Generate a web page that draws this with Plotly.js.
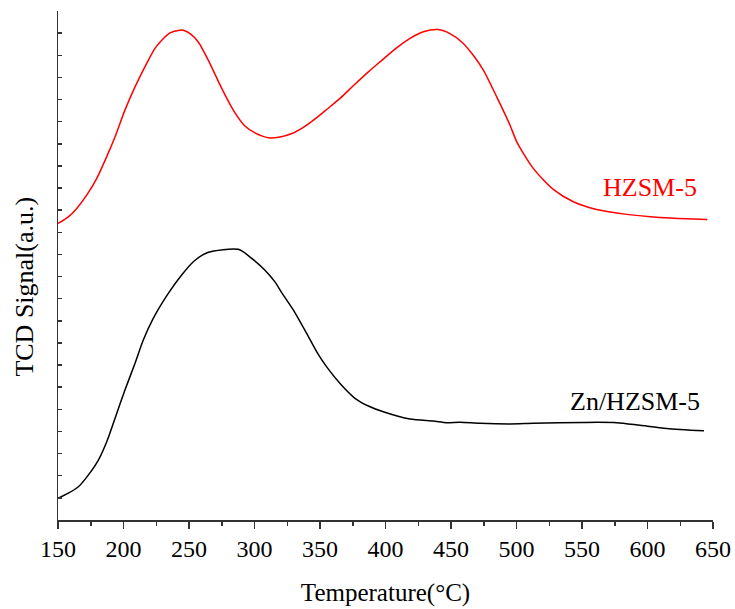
<!DOCTYPE html>
<html>
<head>
<meta charset="utf-8">
<script src="https://cdn.plot.ly/plotly-3.0.1.min.js"></script>
<style>html,body{margin:0;padding:0;background:#fff;}#chart{width:735px;height:609px;}</style>
</head>
<body>
<div id="chart"></div>
<script>
// HZSM-5 TPD profile (temperature in °C, signal in a.u.)
var hzsmT = [150, 157.9, 164.3, 171.9, 179.5, 187.1, 193.5, 201.1, 208.8, 217.7, 224.0, 229.2, 235.5, 243.1, 245.6, 250.8, 257.1, 264.7, 275.0, 283.8, 292.7, 300.4, 310.5, 319.5, 329.6, 337.3, 347.5, 355.1, 365.3, 375.4, 386.9, 395.8, 408.5, 418.7, 428.9, 440.3, 449.2, 458.2, 467.0, 474.7, 484.9, 495.0, 500.2, 512.8, 528.1, 543.4, 561.2, 584.1, 609.5, 629.9, 645.6];
var hzsmS = [13.40, 13.70, 14.08, 14.68, 15.43, 16.41, 17.31, 18.52, 19.57, 20.63, 21.31, 21.68, 22.01, 22.13, 22.13, 21.98, 21.60, 20.78, 19.50, 18.52, 17.80, 17.49, 17.27, 17.31, 17.49, 17.74, 18.18, 18.55, 19.05, 19.62, 20.25, 20.70, 21.33, 21.76, 22.06, 22.16, 21.98, 21.60, 21.00, 20.33, 19.12, 17.85, 17.09, 15.89, 14.94, 14.38, 14.03, 13.81, 13.67, 13.61, 13.58];

// Zn/HZSM-5 TPD profile
var znT = [150, 157.9, 165.5, 173.1, 180.8, 187.2, 193.5, 201.1, 208.8, 215.1, 222.7, 234.2, 244.4, 253.3, 264.3, 287.6, 297.9, 308.0, 315.6, 321.0, 329.6, 339.8, 347.5, 355.1, 365.3, 376.7, 386.9, 398.3, 418.7, 436.5, 446.7, 456.9, 472.1, 495.0, 512.8, 551.0, 576.5, 594.3, 614.7, 643.1];
var znS = [0.98, 1.21, 1.50, 2.03, 2.71, 3.54, 4.59, 5.87, 7.08, 8.13, 9.11, 10.24, 11.07, 11.67, 12.09, 12.23, 11.82, 11.29, 10.76, 10.25, 9.49, 8.43, 7.60, 6.92, 6.17, 5.50, 5.15, 4.89, 4.56, 4.47, 4.40, 4.42, 4.37, 4.34, 4.37, 4.41, 4.40, 4.28, 4.14, 4.03];

var seriesNames = ["HZSM-5", "Zn/HZSM-5"];
var labelPos = {T: [601.9, 590.5], S: [15.04, 5.34]};
var xTickVals = [150, 200, 250, 300, 350, 400, 450, 500, 550, 600, 650];

var serif = '"Liberation Serif", "Times New Roman", serif';
var axisColor = '#333333';

var traces = [
  {x: hzsmT, y: hzsmS, name: seriesNames[0], mode: 'lines', line: {color: '#ff0000', width: 1.5, shape: 'spline', smoothing: 0.7}, hoverinfo: 'x+y'},
  {x: znT, y: znS, name: seriesNames[1], mode: 'lines', line: {color: '#000000', width: 1.5, shape: 'spline', smoothing: 0.7}, hoverinfo: 'x+y'}
];

var layout = {
  width: 735, height: 609,
  margin: {l: 58, r: 22, t: 11, b: 89},
  paper_bgcolor: '#ffffff', plot_bgcolor: '#ffffff',
  showlegend: false,
  font: {family: serif, color: '#000000'},
  xaxis: {
    range: [150, 650], tickvals: xTickVals, ticktext: xTickVals.map(String),
    ticks: 'outside', ticklen: 7, tickwidth: 1.5, tickcolor: axisColor,
    minor: {dtick: 25, tick0: 150, ticks: 'outside', ticklen: 4, tickwidth: 1.5, tickcolor: axisColor},
    showline: true, linecolor: axisColor, linewidth: 1.5, showgrid: false, zeroline: false,
    tickfont: {family: serif, size: 24, color: '#000000'},
    title: {text: 'Temperature(°C)', font: {family: serif, size: 25, color: '#000000'}, standoff: 22}
  },
  xaxis2: {
    overlaying: 'x', matches: 'x', side: 'top', range: [150, 650],
    dtick: 25, tick0: 150, ticks: 'inside', ticklen: 4, tickwidth: 1.5, tickcolor: axisColor,
    showticklabels: false, showline: true, linecolor: axisColor, linewidth: 1.5, showgrid: false, zeroline: false
  },
  yaxis: {
    range: [0, 23], dtick: 1, tick0: 0, ticks: 'inside', ticklen: 4, tickwidth: 1.5, tickcolor: axisColor,
    showticklabels: false, showline: true, linecolor: axisColor, linewidth: 1.5, showgrid: false, zeroline: false
  },
  yaxis2: {
    overlaying: 'y', matches: 'y', side: 'right', range: [0, 23],
    dtick: 1, tick0: 0, ticks: 'outside', ticklen: 4, tickwidth: 1.5, tickcolor: axisColor,
    showticklabels: false, showline: true, linecolor: axisColor, linewidth: 1.5, showgrid: false, zeroline: false
  },
  annotations: [
    {x: labelPos.T[0], y: labelPos.S[0], xref: 'x', yref: 'y', text: seriesNames[0], showarrow: false,
     font: {family: serif, size: 26, color: '#ff0000'}},
    {x: labelPos.T[1], y: labelPos.S[1], xref: 'x', yref: 'y', text: seriesNames[1], showarrow: false,
     font: {family: serif, size: 26, color: '#000000'}},
    {x: -0.0504, y: 0.4585, xref: 'paper', yref: 'paper', xanchor: 'center', yanchor: 'middle',
     text: 'TCD Signal(a.u.)', textangle: -90, showarrow: false,
     font: {family: serif, size: 26, color: '#000000'}}
  ]
};

Plotly.newPlot('chart', traces, layout, {displayModeBar: false, staticPlot: true});
</script>
</body>
</html>
